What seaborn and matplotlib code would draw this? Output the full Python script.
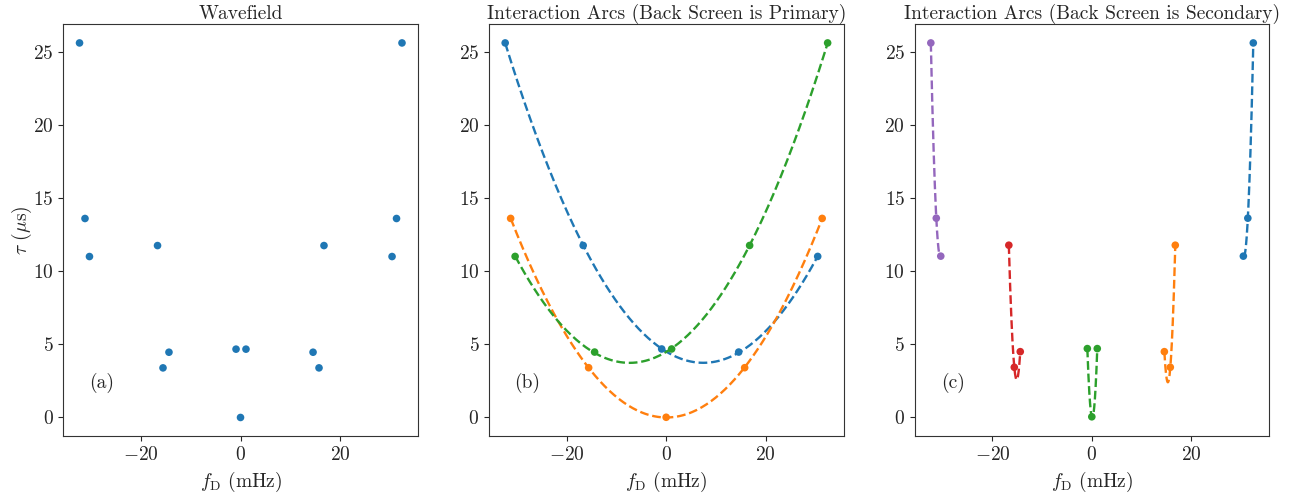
import numpy as np
import pandas as pd
import matplotlib
matplotlib.use("Agg")
import matplotlib.pyplot as plt
import seaborn as sns

# image positions (fD in mHz, tau in microseconds)
fd = [-32.4, -31.3, -30.4, -16.7, -15.6, -14.4, -0.9, 0.0, 1.1,
      14.6, 15.8, 16.8, 30.5, 31.4, 32.5]
tau = [25.6, 13.6, 11.0, 11.75, 3.39, 4.46, 4.67, 0.0, 4.67,
       4.46, 3.39, 11.75, 11.0, 13.6, 25.6]

# arcs through the points when the back screen is primary / secondary
primary_arcs = [[0, 3, 6, 9, 12], [1, 4, 7, 10, 13], [2, 5, 8, 11, 14]]
secondary_arcs = [[12, 13, 14], [9, 10, 11], [6, 7, 8], [3, 4, 5], [0, 1, 2]]

titles = ["Wavefield",
          "Interaction Arcs (Back Screen is Primary)",
          "Interaction Arcs (Back Screen is Secondary)"]
panel_tags = ["(a)", "(b)", "(c)"]

sns.set_style("ticks")
plt.rcParams["font.family"] = "serif"
plt.rcParams["font.serif"] = ["cmr10", "DejaVu Serif"]
plt.rcParams["mathtext.fontset"] = "cm"
plt.rcParams["axes.formatter.use_mathtext"] = True
plt.rcParams["font.size"] = 14
plt.rcParams["axes.edgecolor"] = "#333333"

df = pd.DataFrame({"fd": fd, "tau": tau})
colors = sns.color_palette("tab10")


def plot_arcs(ax, arcs):
    # dashed parabola fitted through each group of points
    for k, idx in enumerate(arcs):
        sub = df.iloc[idx]
        coef = np.polyfit(sub["fd"], sub["tau"], 2)
        xs = np.linspace(sub["fd"].min(), sub["fd"].max(), 200)
        curve = pd.DataFrame({"fd": xs, "tau": np.polyval(coef, xs)})
        sns.lineplot(data=curve, x="fd", y="tau", ax=ax, color=colors[k],
                     linestyle="--", linewidth=1.7, sort=False)
        sns.scatterplot(data=sub, x="fd", y="tau", ax=ax, color=colors[k],
                        s=30, edgecolor="none", zorder=3)


fig, axes = plt.subplots(1, 3, figsize=(12.94, 4.94), dpi=100)
plt.subplots_adjust(left=0.049, right=0.981, top=0.951, bottom=0.117, wspace=0.2)

sns.scatterplot(data=df, x="fd", y="tau", ax=axes[0], color=colors[0],
                s=30, edgecolor="none")
plot_arcs(axes[1], primary_arcs)
plot_arcs(axes[2], secondary_arcs)

for i, ax in enumerate(axes):
    ax.set_title(titles[i], fontsize=14, pad=4)
    ax.set_xlabel(r"$f_{\rm D}$ (mHz)", fontsize=14)
    ax.set_ylabel(r"$\tau$ ($\mu$s)" if i == 0 else "", fontsize=14, labelpad=-1)
    ax.set_xticks([-20, 0, 20])
    ax.set_yticks([0, 5, 10, 15, 20, 25])
    ax.tick_params(labelsize=14)
    ax.text(0.107, 0.13, panel_tags[i], transform=ax.transAxes,
            ha="center", va="center", fontsize=14)
    for sp in ax.spines.values():
        sp.set_visible(True)

fig.savefig("out.png", dpi=100)
